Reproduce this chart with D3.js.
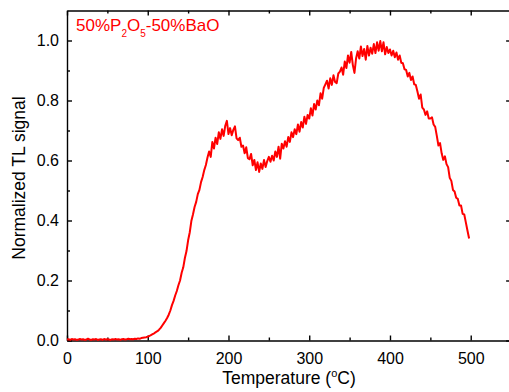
<!DOCTYPE html>
<html>
<head>
<meta charset="utf-8">
<script src="https://cdn.jsdelivr.net/npm/d3@7"></script>
<style>
  body { margin: 0; background: #fff; }
  svg { display: block; font-family: "Liberation Sans", Arial, sans-serif; }
  .axis path, .axis line { stroke: #000; stroke-width: 1.4; }
  .axis text { font-size: 16px; fill: #000; }
</style>
</head>
<body>
<div id="chart"></div>
<script>
// Data: TL glow curve, sampled every 2 degC from 0 to 498
const tempStart = 0;
const tempStep = 2;
const signal = [
  0.003, 0.004, 0.002, 0.005, 0.003, 0.004, 0.002, 0.003, 0.005, 0.003,
  0.004, 0.002, 0.003, 0.006, 0.003, 0.002, 0.004, 0.003, 0.005, 0.002,
  0.003, 0.004, 0.002, 0.005, 0.003, 0.004, 0.003, 0.002, 0.004, 0.003,
  0.005, 0.003, 0.004, 0.002, 0.004, 0.005, 0.003, 0.004, 0.006, 0.004,
  0.005, 0.004, 0.006, 0.005, 0.007, 0.006, 0.008, 0.009, 0.010, 0.011,
  0.013, 0.015, 0.018, 0.021, 0.024, 0.028, 0.031, 0.036, 0.042, 0.050,
  0.058, 0.066, 0.075, 0.086, 0.100, 0.118, 0.132, 0.150, 0.165, 0.184,
  0.200, 0.226, 0.244, 0.275, 0.298, 0.334, 0.360, 0.398, 0.420, 0.445,
  0.462, 0.488, 0.502, 0.528, 0.545, 0.568, 0.585, 0.610, 0.630, 0.612,
  0.662, 0.640, 0.676, 0.655, 0.694, 0.672, 0.704, 0.682, 0.716, 0.732,
  0.688, 0.708, 0.684, 0.702, 0.714, 0.674, 0.668, 0.676, 0.646, 0.650,
  0.624, 0.644, 0.608, 0.604, 0.622, 0.584, 0.602, 0.568, 0.594, 0.562,
  0.590, 0.572, 0.602, 0.578, 0.598, 0.612, 0.596, 0.616, 0.600, 0.630,
  0.612, 0.646, 0.606, 0.656, 0.640, 0.664, 0.646, 0.678, 0.662, 0.694,
  0.678, 0.704, 0.688, 0.720, 0.696, 0.728, 0.710, 0.746, 0.722, 0.752,
  0.740, 0.774, 0.750, 0.788, 0.770, 0.800, 0.784, 0.824, 0.806, 0.842,
  0.854, 0.866, 0.840, 0.874, 0.852, 0.884, 0.862, 0.858, 0.890, 0.896,
  0.910, 0.886, 0.930, 0.908, 0.950, 0.926, 0.962, 0.918, 0.892, 0.940,
  0.964, 0.940, 0.980, 0.948, 0.972, 0.936, 0.982, 0.950, 0.976, 0.956,
  0.988, 0.958, 0.994, 0.966, 0.998, 0.964, 0.994, 0.954, 0.978, 0.958,
  0.970, 0.950, 0.966, 0.944, 0.960, 0.936, 0.950, 0.926, 0.924, 0.904,
  0.902, 0.880, 0.892, 0.868, 0.880, 0.854, 0.852, 0.830, 0.806, 0.820,
  0.776, 0.770, 0.752, 0.764, 0.740, 0.740, 0.744, 0.720, 0.712, 0.682,
  0.650, 0.658, 0.624, 0.602, 0.614, 0.588, 0.578, 0.542, 0.532, 0.502,
  0.497, 0.476, 0.472, 0.450, 0.450, 0.422, 0.420, 0.393, 0.366, 0.340
];
const xTicks = [0, 100, 200, 300, 400, 500];
const xMinor = [50, 150, 250, 350, 450];
const yTicks = [0, 0.2, 0.4, 0.6, 0.8, 1.0];
const yMinor = [0.1, 0.3, 0.5, 0.7, 0.9];

const data = signal.map((v, i) => ({ t: tempStart + i * tempStep, v: v }));

const width = 509;
const height = 392;

const svg = d3.select("#chart")
  .append("svg")
  .attr("width", width)
  .attr("height", height);

const x = d3.scaleLinear().domain([0, 550]).range([67, 511.1]);
const y = d3.scaleLinear().domain([0, 1.1]).range([340.5, 10.5]);

// Minor ticks (inside)
svg.append("g").attr("class", "axis")
  .attr("transform", `translate(0,${y(0)})`)
  .call(d3.axisBottom(x).tickValues(xMinor).tickSize(-3).tickFormat(""))
  .call(g => g.select(".domain").remove());
svg.append("g").attr("class", "axis")
  .attr("transform", `translate(0,${y(1.1)})`)
  .call(d3.axisTop(x).tickValues(xMinor).tickSize(-3).tickFormat(""))
  .call(g => g.select(".domain").remove());
svg.append("g").attr("class", "axis")
  .attr("transform", `translate(${x(0)},0)`)
  .call(d3.axisLeft(y).tickValues(yMinor).tickSize(-3).tickFormat(""))
  .call(g => g.select(".domain").remove());

// Major axes
svg.append("g").attr("class", "axis")
  .attr("transform", `translate(0,${y(0)})`)
  .call(d3.axisBottom(x).tickValues(xTicks).tickSize(-5).tickPadding(12).tickSizeOuter(0))
  .call(g => g.selectAll(".tick text").attr("dy", "0.71em"));
svg.append("g").attr("class", "axis")
  .attr("transform", `translate(0,${y(1.1)})`)
  .call(d3.axisTop(x).tickValues(xTicks).tickSize(-5).tickFormat("").tickSizeOuter(0));
svg.append("g").attr("class", "axis")
  .attr("transform", `translate(${x(0)},0)`)
  .call(d3.axisLeft(y).tickValues(yTicks).tickSize(-5).tickPadding(8).tickSizeOuter(0)
    .tickFormat(d3.format(".1f")));
svg.append("g").attr("class", "axis")
  .attr("transform", `translate(${x(550)},0)`)
  .call(d3.axisRight(y).tickValues(yTicks).tickSize(-5).tickFormat("").tickSizeOuter(0));

// Curve
const line = d3.line()
  .x(d => x(d.t))
  .y(d => y(d.v));

svg.append("path")
  .datum(data)
  .attr("fill", "none")
  .attr("stroke", "#ff0000")
  .attr("stroke-width", 2)
  .attr("stroke-linejoin", "round")
  .attr("d", line);

// Axis labels
const xl = svg.append("text")
  .attr("x", 289)
  .attr("y", 384)
  .attr("text-anchor", "middle")
  .style("font-size", "17.5px");
xl.append("tspan").text("Temperature (");
xl.append("tspan").attr("dy", -7).style("font-size", "11px").text("o");
xl.append("tspan").attr("dy", 7).text("C)");

svg.append("text")
  .attr("transform", "translate(25,178) rotate(-90)")
  .attr("text-anchor", "middle")
  .style("font-size", "17.5px")
  .text("Normalized TL signal");

// Sample legend
const lg = svg.append("text")
  .attr("x", 76)
  .attr("y", 31)
  .attr("fill", "#ff0000")
  .style("font-size", "17px");
lg.append("tspan").text("50%P");
lg.append("tspan").attr("dy", 6).style("font-size", "10px").text("2");
lg.append("tspan").attr("dy", -6).text("O");
lg.append("tspan").attr("dy", 6).style("font-size", "10px").text("5");
lg.append("tspan").attr("dy", -6).text("-50%BaO");
</script>
</body>
</html>
